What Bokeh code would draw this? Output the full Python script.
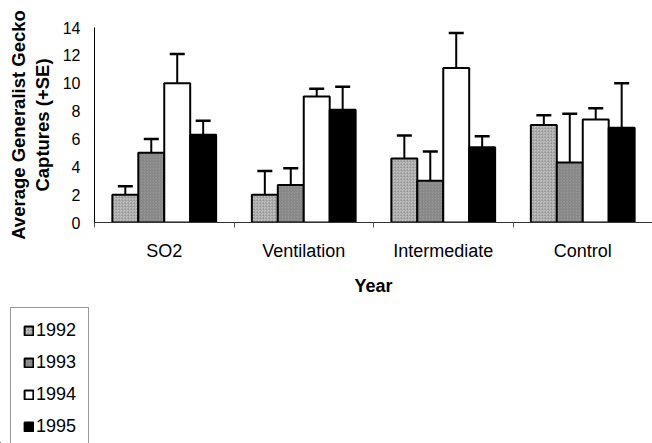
from bokeh.plotting import figure
from bokeh.layouts import column
from bokeh.models import (ColumnDataSource, Range1d, FixedTicker, Whisker, TeeHead,
                          Legend, LegendItem, Title)
from bokeh.embed import file_html
from bokeh.resources import INLINE

# Treatment sites and survey years
categories = ["SO2", "Ventilation", "Intermediate", "Control"]
years = ["1992", "1993", "1994", "1995"]

# Mean captures per site, one list per year, with standard errors
mean_1992 = [2.0, 2.0, 4.6, 7.0]
se_1992 = [0.6, 1.7, 1.65, 0.7]
mean_1993 = [5.0, 2.7, 3.0, 4.3]
se_1993 = [1.0, 1.2, 2.1, 3.5]
mean_1994 = [10.0, 9.05, 11.1, 7.4]
se_1994 = [2.1, 0.55, 2.5, 0.8]
mean_1995 = [6.3, 8.1, 5.4, 6.8]
se_1995 = [1.0, 1.65, 0.8, 3.2]

y_ticks = [0, 2, 4, 6, 8, 10, 12, 14]

means = [mean_1992, mean_1993, mean_1994, mean_1995]
ses = [se_1992, se_1993, se_1994, se_1995]

FONT = "Liberation Sans"
BAR_W = 0.186

styles = [
    dict(fill_color="#c2c2c2", hatch_pattern="criss_cross", hatch_scale=3,
         hatch_color="#808080", hatch_alpha=0.6, hatch_weight=0.5),
    dict(fill_color="#979797", hatch_pattern="right_diagonal_line", hatch_scale=3,
         hatch_color="#5a5a5a", hatch_alpha=0.6, hatch_weight=0.6),
    dict(fill_color="white"),
    dict(fill_color="black"),
]

p = figure(width=652, height=300, output_backend="svg", toolbar_location=None,
           x_range=Range1d(0, len(categories)), y_range=Range1d(0, 14),
           min_border_left=94, min_border_right=0, min_border_top=27,
           min_border_bottom=78)
p.frame_align = False
p.outline_line_color = None
p.xgrid.visible = False
p.ygrid.visible = False

for j, yr in enumerate(years):
    xs = [i + 0.5 + (j - 1.5) * BAR_W for i in range(len(categories))]
    src = ColumnDataSource(dict(x=xs, top=means[j],
                                upper=[m + s for m, s in zip(means[j], ses[j])]))
    p.vbar(x="x", top="top", width=BAR_W, bottom=0, source=src,
           line_color="black", line_width=2, **styles[j])
    p.add_layout(Whisker(base="x", lower="top", upper="upper", source=src,
                         line_color="black", line_width=2,
                         upper_head=TeeHead(size=15, line_width=2.5, line_color="black"),
                         lower_head=None))

# Y axis with a two-line title (outer line drawn as a side Title)
yax = p.yaxis[0]
yax.ticker = FixedTicker(ticks=y_ticks)
yax.major_tick_out = 0
yax.major_tick_in = 0
yax.minor_tick_out = 0
yax.minor_tick_in = 0
yax.axis_line_color = "black"
yax.major_label_text_font = FONT
yax.major_label_text_font_size = "16px"
yax.major_label_text_color = "black"
yax.major_label_standoff = 14
yax.axis_label = "Captures (+SE)"
yax.axis_label_text_font = FONT
yax.axis_label_text_font_size = "18.5px"
yax.axis_label_text_font_style = "bold"
yax.axis_label_text_color = "black"
yax.axis_label_standoff = 7

p.add_layout(Title(text="Average Generalist Gecko", align="center",
                   text_font=FONT, text_font_size="18.5px", text_font_style="bold",
                   text_color="black", standoff=0), "left")

# X axis: labels at category centres, ticks on category boundaries
xax = p.xaxis[0]
xax.ticker = FixedTicker(ticks=[i + 0.5 for i in range(len(categories))],
                         minor_ticks=list(range(len(categories) + 1)))
xax.major_label_overrides = {i + 0.5: c for i, c in enumerate(categories)}
xax.major_tick_out = 0
xax.major_tick_in = 0
xax.minor_tick_out = 5
xax.minor_tick_in = 0
xax.minor_tick_line_color = "#555555"
xax.axis_line_color = "#333333"
xax.major_label_text_font = FONT
xax.major_label_text_font_size = "18px"
xax.major_label_text_color = "black"
xax.major_label_standoff = 13
xax.axis_label = "Year"
xax.axis_label_text_font = FONT
xax.axis_label_text_font_size = "18px"
xax.axis_label_text_font_style = "bold"
xax.axis_label_text_color = "black"
xax.axis_label_standoff = 12

# Legend strip underneath the chart; swatch bars lie far outside its visible range
lf = figure(width=652, height=143, output_backend="svg", toolbar_location=None,
            x_range=Range1d(0, 1), y_range=Range1d(0, 1), min_border=0,
            x_axis_type=None, y_axis_type=None)
lf.frame_align = False
lf.grid.visible = False
lf.outline_line_color = None

items = []
for j, yr in enumerate(years):
    r = lf.vbar(x=[-50], top=[-50], bottom=[-51], width=0.1,
                line_color="black", line_width=2, **styles[j])
    items.append(LegendItem(label=yr, renderers=[r]))

legend = Legend(items=items, location=(10, -7), orientation="vertical",
                label_text_font=FONT, label_text_font_size="18px",
                label_text_color="black", label_height=20, label_standoff=2,
                glyph_width=11, glyph_height=11, spacing=11, padding=12,
                margin=0, border_line_color="#333333", border_line_width=1,
                background_fill_color="white", background_fill_alpha=1)
lf.add_layout(legend)

open("out.html", "w").write(file_html(column(p, lf), INLINE))
